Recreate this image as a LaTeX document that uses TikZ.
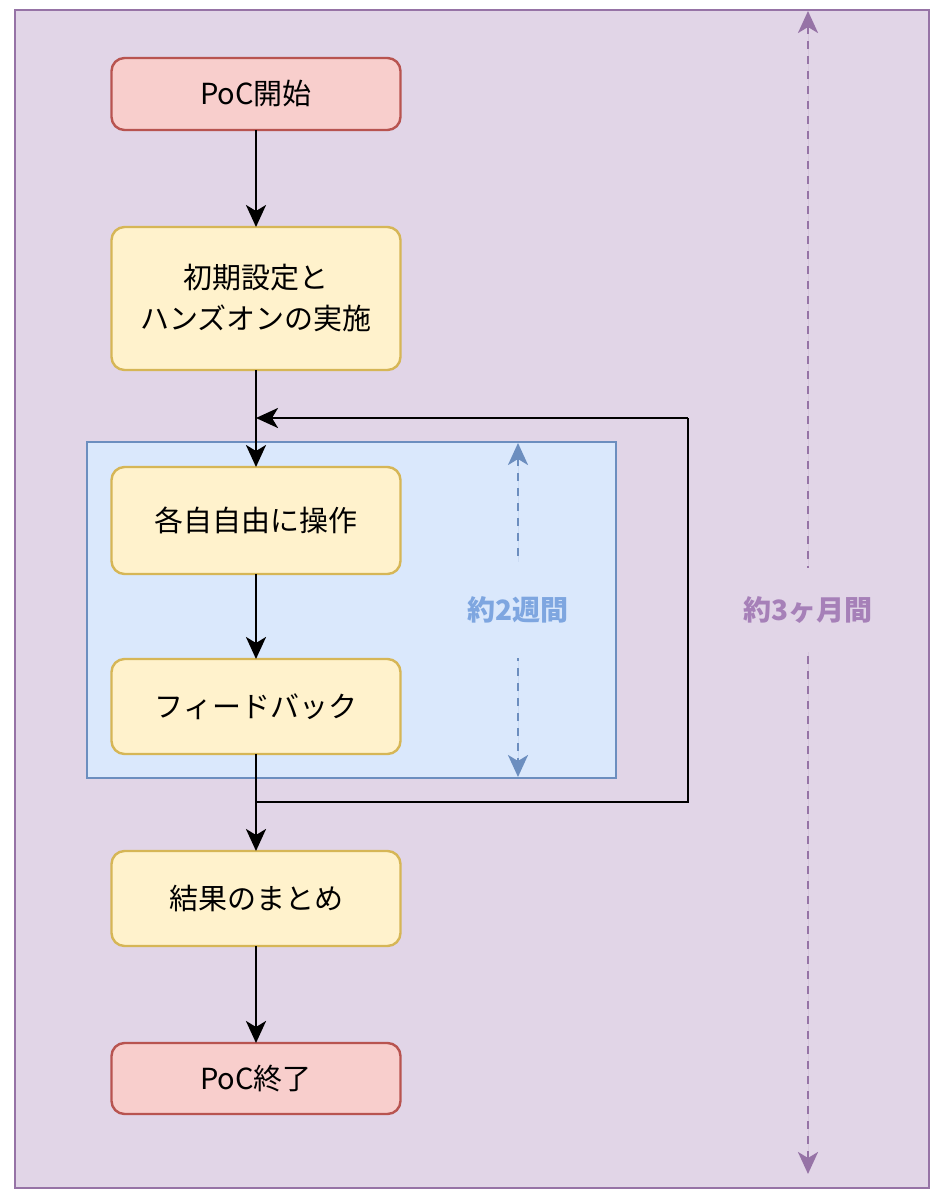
\documentclass[tikz,border=0pt]{standalone}
\usepackage{fontspec}
\setmainfont{Noto Sans CJK JP}
\usepackage{xcolor}
\usepackage{tikz}
\usetikzlibrary{arrows.meta, positioning}

\definecolor{redfill}{HTML}{F8CECC}
\definecolor{redline}{HTML}{B85450}
\definecolor{yelfill}{HTML}{FFF2CC}
\definecolor{yelline}{HTML}{D6B656}
\definecolor{bluefill}{HTML}{DAE8FC}
\definecolor{blueline}{HTML}{6C8EBF}
\definecolor{bluetext}{HTML}{7EA6E0}
\definecolor{purpfill}{HTML}{E1D5E7}
\definecolor{purpline}{HTML}{9673A6}
\definecolor{purptext}{HTML}{A680B8}

\begin{document}
\begin{tikzpicture}[
  x=0.5pt, y=-0.5pt,
  node distance=48.5pt,
  box/.style={draw, line width=1.2pt, outer sep=0pt, rounded corners=6.5pt, align=center, minimum width=144.5pt, font=\fontsize{14.5pt}{20.5pt}\selectfont},
  endbox/.style={box, fill=redfill, draw=redline, minimum height=36pt},
  workbox/.style={box, fill=yelfill, draw=yelline},
  phase/.style={draw, line width=1.2pt, inner sep=0pt},
  flow/.style={-{Stealth[length=11pt, width=10pt, inset=3pt]}, line width=1.4pt},
  span/.style={{Stealth[length=11pt, width=10pt, inset=3pt]}-{Stealth[length=11pt, width=10pt, inset=3pt]}, line width=1.4pt, dash pattern=on 4pt off 3.5pt},
  spanlabel/.style={font=\fontsize{14pt}{16pt}\selectfont\bfseries, inner sep=1pt}
]
\useasboundingbox (0,0) rectangle (942,1200);

% containers
\node[phase, fill=purpfill, draw=purpline, minimum width=457pt, minimum height=589pt] (months) at (472,599) {};
\node[phase, fill=bluefill, draw=blueline, minimum width=264.5pt, minimum height=168pt] (weeks) at (351.5,610) {};

% flow
\node[endbox] (start) at (256,94) {PoC開始};
\node[workbox, minimum height=71.5pt, below=of start] (init) {初期設定と\\ハンズオンの実施};
\node[workbox, minimum height=53.5pt, below=of init] (ops) {各自自由に操作};
\node[workbox, minimum height=47.5pt, below=42.5pt of ops] (fb) {フィードバック};
\node[workbox, minimum height=47.5pt, below=of fb] (sum) {結果のまとめ};
\node[endbox, minimum height=35.5pt, below=of sum] (stop) {PoC終了};

\draw[flow] (start) -- (init);
\draw[flow] (init) -- (ops);
\draw[flow] (ops) -- (fb);
\draw[flow] (fb) -- (sum);
\draw[flow] (sum) -- (stop);

% loop back
\coordinate (loopse) at (688,802);
\coordinate (loopne) at (688,418);
\draw[line width=1.4pt] (fb.south) |- (loopse) -- (loopne);
\draw[flow] (loopne) -- (loopne -| ops.north);

% durations
\coordinate (wtop) at (518,443);
\coordinate (wbot) at (518,777);
\draw[span, draw=blueline, fill=blueline] (wtop) -- node[spanlabel, fill=bluefill, text=bluetext, pos=0.5, minimum height=48pt] (wlabel) {約2週間} (wbot);

\coordinate (mtop) at (808,11);
\coordinate (mbot) at (808,1174);
\draw[span, draw=purpline, fill=purpline] (mtop) -- node[spanlabel, fill=purpfill, text=purptext, pos=0.515, minimum height=42pt] (mlabel) {約3ヶ月間} (mbot);
\end{tikzpicture}
\end{document}
